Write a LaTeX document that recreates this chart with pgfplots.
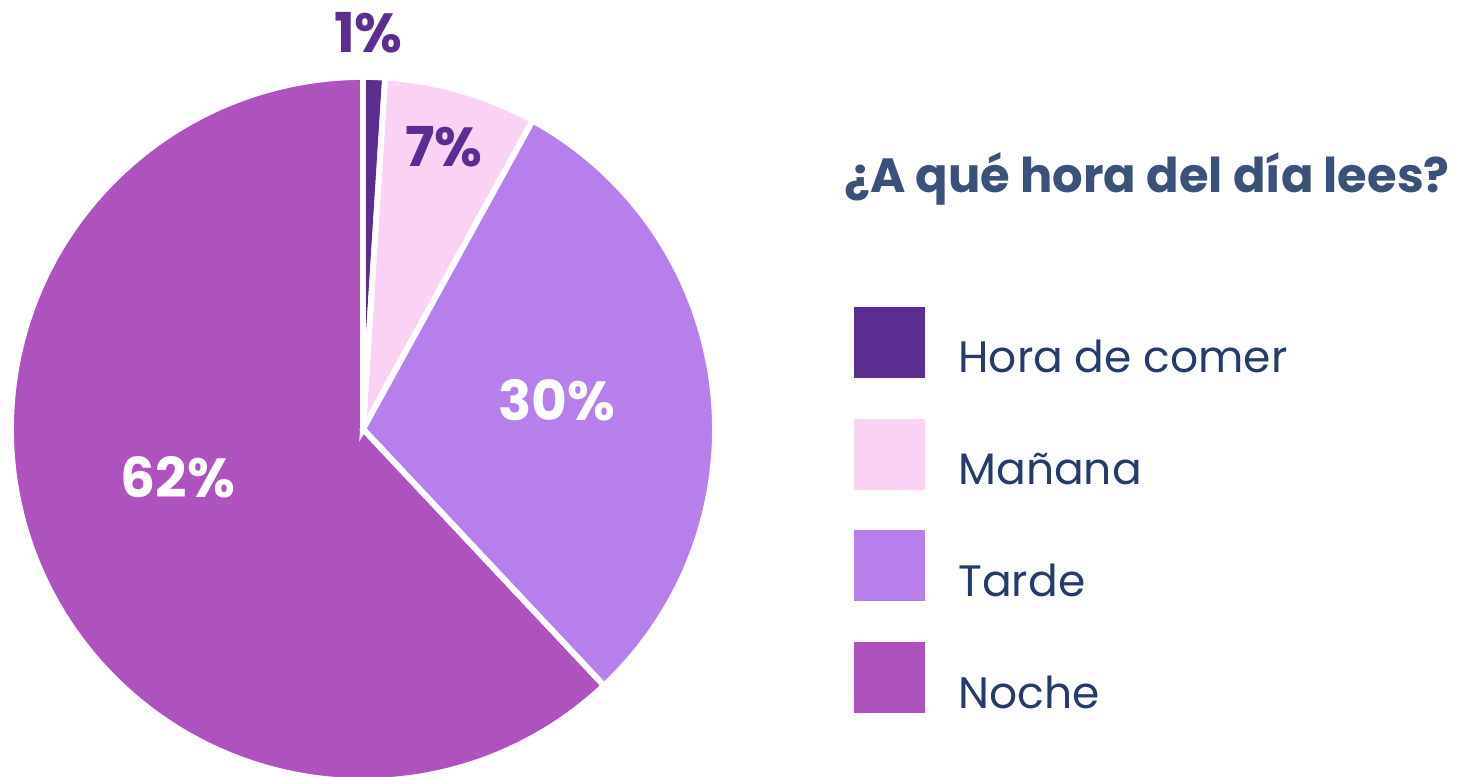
\documentclass[border=0pt]{standalone}
\usepackage{fontspec}
\setmainfont{Poppins}
\usepackage{pgfplots}
\usepackage{pgfplotstable}
\pgfplotsset{compat=1.18}

\definecolor{comer}{HTML}{5C2D91}
\definecolor{manana}{HTML}{FAD2F4}
\definecolor{tarde}{HTML}{B77FEC}
\definecolor{noche}{HTML}{AE52BE}
\definecolor{titleblue}{HTML}{3A5179}
\definecolor{navy}{HTML}{253C6A}

% share of readers (%), clockwise from 12 o'clock
% lr/la = where the percentage sits (radius in px, angle in deg)
\pgfplotstableread[col sep=comma]{
label,value,fill,txt,lr,la
Hora de comer,1,comer,comer,396,89.2
Mañana,7,manana,comer,294,74
Tarde,30,tarde,white,196,8.5
Noche,62,noche,white,191,194.5
}\piedata

\begin{document}
\begin{tikzpicture}
\begin{axis}[
    width=729pt, height=388.5pt, scale only axis,
    xmin=0, xmax=1458, ymin=0, ymax=777,
    hide axis, clip=false,
]
\pgfplotsextra{
  \pgfplotstablegetrowsof{\piedata}
  \pgfmathtruncatemacro\nrows{\pgfplotsretval-1}
  % pass 1: slices
  \xdef\cum{0}
  \foreach \i in {0,...,\nrows}{
    \pgfplotstablegetelem{\i}{value}\of\piedata \let\v\pgfplotsretval
    \pgfplotstablegetelem{\i}{fill}\of\piedata \let\col\pgfplotsretval
    \pgfmathsetmacro\aS{90-3.6*\cum}
    \pgfmathsetmacro\aE{90-3.6*(\cum+\v)}
    \fill[\col] (axis cs:363,348) -- ++(\aS:176pt)
      arc[start angle=\aS, end angle=\aE, radius=176pt] -- cycle;
    \pgfmathsetmacro\c{\cum+\v}\xdef\cum{\c}
  }
  % pass 2: white separators
  \xdef\cum{0}
  \foreach \i in {0,...,\nrows}{
    \pgfplotstablegetelem{\i}{value}\of\piedata \let\v\pgfplotsretval
    \pgfmathsetmacro\aS{90-3.6*\cum}
    \pgfmathsetmacro\aE{90-3.6*(\cum+\v)}
    \draw[white, line width=2.9pt] (axis cs:363,348) -- ++(\aS:176pt)
      arc[start angle=\aS, end angle=\aE, radius=176pt] -- cycle;
    \pgfmathsetmacro\c{\cum+\v}\xdef\cum{\c}
  }
  % percentages and legend
  \foreach \i in {0,...,\nrows}{
    \pgfplotstablegetelem{\i}{value}\of\piedata \let\v\pgfplotsretval
    \pgfplotstablegetelem{\i}{fill}\of\piedata \let\col\pgfplotsretval
    \pgfplotstablegetelem{\i}{txt}\of\piedata \let\tc\pgfplotsretval
    \pgfplotstablegetelem{\i}{label}\of\piedata \let\lab\pgfplotsretval
    \pgfplotstablegetelem{\i}{lr}\of\piedata \let\lr\pgfplotsretval
    \pgfplotstablegetelem{\i}{la}\of\piedata \let\la\pgfplotsretval
    \pgfmathsetmacro\lx{363+\lr*cos(\la)}
    \pgfmathsetmacro\ly{348+\lr*sin(\la)}
    \node[text=\tc, font=\bfseries\fontsize{27.5}{32}\selectfont, inner sep=0pt]
      at (axis cs:\lx,\ly) {\v\%};
    \pgfmathsetmacro\sy{777-307-111.7*\i}
    \fill[\col] (axis cs:854,\sy) rectangle ++(35.5pt,-35.5pt);
    \pgfmathsetmacro\ty{777-373-111.7*\i}
    \node[anchor=base west, text=navy, font=\fontsize{22}{26}\selectfont, inner sep=0pt]
      at (axis cs:958,\ty) {\lab};
  }
}
\node[anchor=base, text=titleblue, font=\bfseries\fontsize{24}{29}\selectfont, inner sep=0pt]
  at (axis cs:1147,584) {¿A qué hora del día lees?};
\coordinate (ll) at (axis cs:0,0);
\coordinate (ur) at (axis cs:1458,777);
\end{axis}
\pgfresetboundingbox
\useasboundingbox (ll) rectangle (ur);
\end{tikzpicture}
\end{document}
